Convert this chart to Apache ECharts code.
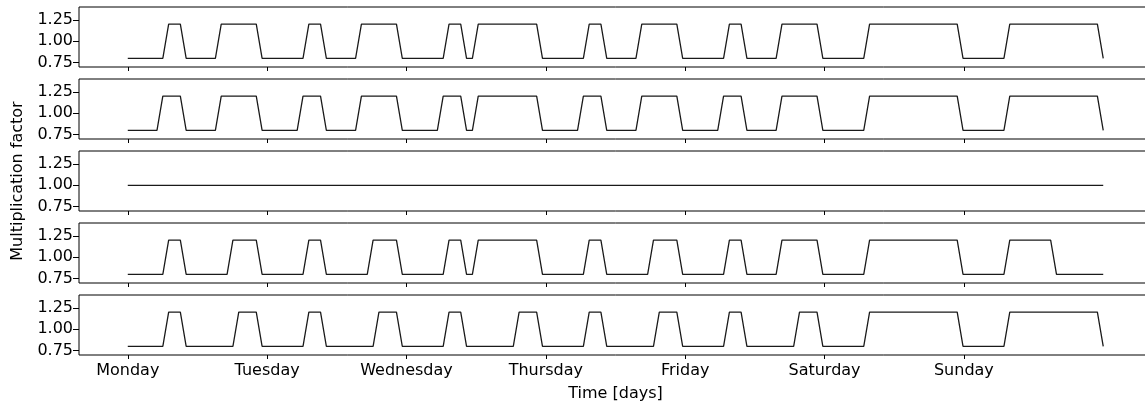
<!DOCTYPE html>
<html>
<head>
<meta charset="utf-8">
<script src="https://cdn.jsdelivr.net/npm/echarts@6/dist/echarts.min.js"></script>
<style>
  html, body { margin: 0; padding: 0; background: #fff; overflow: hidden; width: 1145px; height: 407px; }
  #chart { width: 1165px; height: 407px; }
</style>
</head>
<body>
<div id="chart"></div>
<script>
// ---- data ----
const dayLabels = ['Monday', 'Tuesday', 'Wednesday', 'Thursday', 'Friday', 'Saturday', 'Sunday'];
const dayTicks = [0, 1, 2, 3, 4, 5, 6];
const yTicks = [0.75, 1.00, 1.25];
const nHours = 168;               // hourly samples over one week
const LOW = 0.8, HIGH = 1.2, FLAT = 1.0;
// hour-index ranges (inclusive) where each profile is at its high level
const highs1 = [[7,9],[16,22],[31,33],[40,46],[55,57],[60,70],[79,81],[88,94],[103,105],[112,118],[127,142],[151,166]];
const highs2 = [[6,9],[16,22],[30,33],[40,46],[54,57],[60,70],[78,81],[88,94],[102,105],[112,118],[127,142],[151,166]];
const highs3 = null;              // constant profile
const highs4 = [[7,9],[18,22],[31,33],[42,46],[55,57],[60,70],[79,81],[90,94],[103,105],[112,118],[127,142],[151,158]];
const highs5 = [[7,9],[19,22],[31,33],[43,46],[55,57],[67,70],[79,81],[91,94],[103,105],[115,118],[127,142],[151,166]];
const profiles = [highs1, highs2, highs3, highs4, highs5];

function buildSeries(ranges) {
  const pts = [];
  for (let i = 0; i < nHours; i++) {
    let v;
    if (!ranges) v = FLAT;
    else v = ranges.some(r => i >= r[0] && i <= r[1]) ? HIGH : LOW;
    pts.push([i * 7 / (nHours - 1), v]);  // samples spread over 7 days
  }
  return pts;
}

const FONT = 'DejaVu Sans';
const FS = 16;
const tops = [7, 79, 151, 223, 295];
const gridH = 60, gridLeft = 79, gridW = 1073;

const grids = [], xAxes = [], yAxes = [], series = [];
tops.forEach((t, k) => {
  const last = k === tops.length - 1;
  grids.push({ left: gridLeft, top: t, width: gridW, height: gridH, show: true,
               borderColor: '#000', borderWidth: 1, backgroundColor: 'transparent' });
  xAxes.push({
    type: 'value', gridIndex: k, min: -0.35, max: 7.35, position: 'bottom',
    axisLine: { show: false, onZero: false },
    splitLine: { show: false },
    axisTick: { show: true, inside: false, length: 4, lineStyle: { color: '#000', width: 1 }, customValues: dayTicks },
    axisLabel: { show: last, customValues: dayTicks, margin: 8, color: '#000', fontFamily: FONT, fontSize: FS,
                 formatter: v => dayLabels[Math.round(v)] || '' },
    name: last ? 'Time [days]' : '', nameLocation: 'middle', nameGap: 31,
    nameTextStyle: { color: '#000', fontFamily: FONT, fontSize: FS }
  });
  yAxes.push({
    type: 'value', gridIndex: k, min: 0.7, max: 1.4, position: 'left',
    axisLine: { show: false, onZero: false },
    splitLine: { show: false },
    axisTick: { show: true, inside: false, length: 6, lineStyle: { color: '#000', width: 1 }, customValues: yTicks },
    axisLabel: { show: true, customValues: yTicks, margin: 6, color: '#000', fontFamily: FONT, fontSize: FS,
                 formatter: v => v.toFixed(2) },
    name: k === 2 ? 'Multiplication factor' : '', nameLocation: 'middle', nameGap: 53, nameRotate: 90,
    nameTextStyle: { color: '#000', fontFamily: FONT, fontSize: FS }
  });
  series.push({
    type: 'line', xAxisIndex: k, yAxisIndex: k, data: buildSeries(profiles[k]),
    showSymbol: false, symbol: 'none', lineStyle: { color: '#1a1a1a', width: 1.3 }, silent: true
  });
});

const chart = echarts.init(document.getElementById('chart'), null, { renderer: 'canvas' });
chart.setOption({ animation: false, backgroundColor: '#fff', grid: grids, xAxis: xAxes, yAxis: yAxes, series });
</script>
</body>
</html>
